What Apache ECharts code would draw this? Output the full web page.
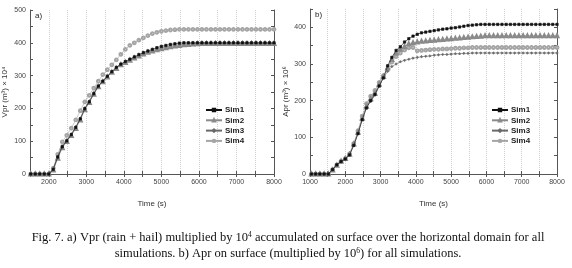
<!DOCTYPE html>
<html>
<head>
<meta charset="utf-8">
<script src="https://cdn.jsdelivr.net/npm/echarts@6/dist/echarts.min.js"></script>
<style>html,body{margin:0;padding:0;background:#fff}#c{width:572px;height:268px}</style>
</head>
<body>
<div id="c"></div>
<script>
// ---------- Panel a data: Vpr x 10^4 ----------
const timeA = [1520,1640,1760,1880,2000,2120,2240,2360,2480,2600,2720,2840,2960,3080,3200,3320,3440,3560,3680,3800,3920,4040,4160,4280,4400,4520,4640,4760,4880,5000,5120,5240,5360,5480,5600,5720,5840,5960,6080,6200,6320,6440,6560,6680,6800,6920,7040,7160,7280,7400,7520,7640,7760,7880,8000];
const sim1A = [0,0,0,0,0,14,52,83,101,120,142,168,199,220,245,268,283,298,312,325,335,343,350,357,364,370,375,380,385,389,392,395,397,399,400,400,400,400,400,400,400,400,400,400,400,400,400,400,400,400,400,400,400,400,400];
const sim2A = [0,0,0,0,0,12,48,80,99,117,139,165,196,218,243,266,281,296,310,322,333,340,347,354,360,366,371,375,379,382,385,388,390,392,394,395,396,397,398,398,398,398,398,398,398,398,398,398,398,398,398,398,398,398,398];
const sim3A = [0,0,0,0,0,16,54,85,103,122,144,170,201,222,247,269,284,298,311,323,334,341,348,355,361,367,372,376,380,384,387,390,392,394,396,397,398,399,399,399,399,399,399,399,399,399,399,399,399,399,399,399,399,399,399];
const sim4A = [0,0,0,0,0,18,60,98,118,140,165,193,220,240,262,283,303,318,333,348,365,380,392,400,408,415,422,428,432,435,437,439,440,441,441,441,441,441,441,441,441,441,441,441,441,441,441,441,441,441,441,441,441,441,441];

// ---------- Panel b data: Apr x 10^6 ----------
const timeB = [1040,1160,1280,1400,1520,1640,1760,1880,2000,2120,2240,2360,2480,2600,2720,2840,2960,3080,3200,3320,3440,3560,3680,3800,3920,4040,4160,4280,4400,4520,4640,4760,4880,5000,5120,5240,5360,5480,5600,5720,5840,5960,6080,6200,6320,6440,6560,6680,6800,6920,7040,7160,7280,7400,7520,7640,7760,7880,8000];
const sim1B = [0,0,0,0,0,12,25,34,41,52,78,110,148,180,200,217,240,262,295,318,337,347,360,369,376,381,385,387,389,391,393,395,396,398,399,401,403,405,406,407,408,408,408,408,408,408,408,408,408,408,408,408,408,408,408,408,408,408,408];
const sim2B = [0,0,0,0,0,11,24,35,42,54,82,114,152,185,205,220,245,266,290,312,330,340,348,355,358,360,362,363,364,365,366,367,368,369,370,371,372,373,374,375,376,377,377,377,377,377,377,377,377,377,377,377,377,377,377,377,377,377,377];
const sim3B = [0,0,0,0,0,13,26,33,40,52,79,111,149,182,198,215,240,262,280,293,300,306,310,313,316,318,320,321,322,324,325,326,326,327,328,328,329,329,330,330,330,330,330,330,330,330,330,330,330,330,330,330,330,330,330,330,330,330,330];
const sim4B = [0,0,0,0,0,12,25,35,42,55,83,118,158,192,212,228,250,268,285,305,320,330,338,344,345,336,337,338,339,340,340,341,341,342,343,343,344,344,345,345,345,345,345,345,345,345,345,345,345,345,345,345,345,345,345,345,345,345,345];

const simNames = ['Sim1','Sim2','Sim3','Sim4'];
const xTitle = 'Time (s)';
const yTitleA = 'Vpr (m³) × 10⁴';
const yTitleB = 'Apr (m³) × 10⁶';

const styles = [
  {symbol:'rect', symbolSize:2.4, color:'#111'},
  {symbol:'emptyTriangle', symbolSize:3, color:'#8a8a8a'},
  {symbol:'diamond', symbolSize:2.6, color:'#6a6a6a'},
  {symbol:'emptyCircle', symbolSize:2.8, color:'#a5a5a5'}
];

function pairs(t, v){ return t.map((x,i)=>[x, v[i]]); }

const axisLine = {show:true, lineStyle:{color:'#555', width:1}};
const tickIn = {show:true, inside:true, length:3, lineStyle:{color:'#555'}};
const lblFont = {fontSize:7, color:'#444', fontFamily:'Liberation Sans'};

function xAxes(gi, min){
  return [
    {type:'value', gridIndex:gi, min:min, max:8000, interval:500, position:'bottom',
     axisLine:axisLine, axisTick:tickIn,
     axisLabel:Object.assign({margin:5, formatter:v=> (v%1000===0 && !(gi===0 && v<2000)) ? String(v) : ''}, lblFont),
     splitLine:{show:true, lineStyle:{type:'dotted', color:'#cfcfcf', width:1}},
     name:xTitle, nameLocation:'middle', nameGap:26,
     nameTextStyle:{fontSize:8, color:'#333', fontFamily:'Liberation Sans'}},
    {type:'value', gridIndex:gi, min:min, max:8000, interval:500, position:'top',
     axisLine:axisLine, axisTick:tickIn, axisLabel:{show:false}, splitLine:{show:false}}
  ];
}
function yAxes(gi, max, title, gap){
  return [
    {type:'value', gridIndex:gi, min:0, max:max, interval:50, position:'left',
     axisLine:axisLine, axisTick:{show:true, inside:true, length:3, lineStyle:{color:'#555'}},
     axisLabel:Object.assign({margin:4, formatter:v=> (v%100===0) ? String(v) : ''}, lblFont),
     splitLine:{show:false},
     name:title, nameLocation:'middle', nameGap:gap, nameRotate:90,
     nameTextStyle:{fontSize:8, color:'#333', fontFamily:'Liberation Sans'}},
    {type:'value', gridIndex:gi, min:0, max:max, interval:50, position:'right',
     axisLine:axisLine, axisTick:tickIn, axisLabel:{show:false}, splitLine:{show:false}}
  ];
}

function mkSeries(gi, t, arrs){
  return arrs.map((v,i)=>({
    type:'line', name:simNames[i], xAxisIndex:gi*2, yAxisIndex:gi*2,
    data:pairs(t, v), symbol:styles[i].symbol, symbolSize:styles[i].symbolSize,
    showSymbol:true, animation:false,
    lineStyle:{color:styles[i].color, width:0.6},
    itemStyle:{color:styles[i].color, borderColor:styles[i].color, borderWidth:0.6},
    z: 10-i
  }));
}

function legend(left, top){
  return {show:true, orient:'vertical', left:left, top:top, data:simNames,
    itemWidth:16, itemHeight:3, itemGap:2.3,
    textStyle:{fontSize:8, fontWeight:'bold', color:'#222', fontFamily:'Liberation Sans', padding:[0,0,0,-2]},
    selectedMode:false};
}

const chart = echarts.init(document.getElementById('c'), null, {renderer:'canvas'});
chart.setOption({
  animation:false,
  backgroundColor:'#fff',
  grid:[
    {left:29, right:298, top:10, bottom:94, containLabel:false},
    {left:310, right:15, top:9, bottom:94, containLabel:false}
  ],
  xAxis: xAxes(0,1500).concat(xAxes(1,1000)),
  yAxis: yAxes(0,500,yTitleA,21).concat(yAxes(1,450,yTitleB,20)),
  legend:[legend(200,101), legend(486,101)],
  series: mkSeries(0, timeA, [sim1A,sim2A,sim3A,sim4A]).concat(mkSeries(1, timeB, [sim1B,sim2B,sim3B,sim4B])),
  graphic:[
    {type:'text', left:35, top:12, style:{text:'a)', fontSize:8, fill:'#222', fontFamily:'Liberation Sans'}},
    {type:'text', left:315, top:11, style:{text:'b)', fontSize:8, fill:'#222', fontFamily:'Liberation Sans'}},
    {type:'text', x:288, y:238, style:{
      text:'{n|Fig. 7. a) Vpr (rain + hail) multiplied by 10}{s|4}{n| accumulated on surface over the horizontal domain for all}',
      align:'center', verticalAlign:'middle',
      rich:{n:{fontSize:12.5, fontFamily:'Liberation Serif', fill:'#111', lineHeight:14},
            s:{fontSize:7.5, fontFamily:'Liberation Serif', fill:'#111', lineHeight:14, verticalAlign:'top'}}}},
    {type:'text', x:288, y:254, style:{
      text:'{n|simulations. b) Apr on surface (multiplied by 10}{s|6}{n|) for all simulations.}',
      align:'center', verticalAlign:'middle',
      rich:{n:{fontSize:12.5, fontFamily:'Liberation Serif', fill:'#111', lineHeight:14},
            s:{fontSize:7.5, fontFamily:'Liberation Serif', fill:'#111', lineHeight:14, verticalAlign:'top'}}}}
  ]
});
</script>
</body>
</html>
